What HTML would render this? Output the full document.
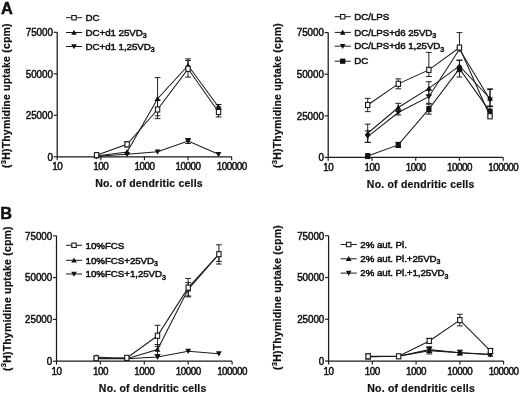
<!DOCTYPE html>
<html><head><meta charset="utf-8"><title>Figure</title>
<style>html,body{margin:0;padding:0;background:#fff;}svg{display:block;}text{fill:#111;}.t{stroke:#111;stroke-width:0.5px;}.b{stroke:#111;stroke-width:0.2px;}</style></head>
<body><svg width="520" height="393" viewBox="0 0 520 393">
<rect width="520" height="393" fill="#fff"/>
<path d="M57.20 32.30V156.80H231.68" fill="none" stroke="#1a1a1a" stroke-width="1.25"/>
<path d="M53.60 156.80H57.20" stroke="#1a1a1a" stroke-width="1.15"/>
<g transform="translate(52.90 160.60) scale(0.93 1)"><text text-anchor="end" font-size="10.6" letter-spacing="-0.05" class="t" font-family="Liberation Sans, Arial, sans-serif">0</text></g>
<path d="M53.60 115.30H57.20" stroke="#1a1a1a" stroke-width="1.15"/>
<g transform="translate(52.90 119.10) scale(0.93 1)"><text text-anchor="end" font-size="10.6" letter-spacing="-0.05" class="t" font-family="Liberation Sans, Arial, sans-serif">25000</text></g>
<path d="M53.60 73.80H57.20" stroke="#1a1a1a" stroke-width="1.15"/>
<g transform="translate(52.90 77.60) scale(0.93 1)"><text text-anchor="end" font-size="10.6" letter-spacing="-0.05" class="t" font-family="Liberation Sans, Arial, sans-serif">50000</text></g>
<path d="M53.60 32.30H57.20" stroke="#1a1a1a" stroke-width="1.15"/>
<g transform="translate(52.90 36.10) scale(0.93 1)"><text text-anchor="end" font-size="10.6" letter-spacing="-0.05" class="t" font-family="Liberation Sans, Arial, sans-serif">75000</text></g>
<path d="M57.20 156.80V160.20" stroke="#1a1a1a" stroke-width="1.15"/>
<g transform="translate(57.20 170.25) scale(0.93 1)"><text text-anchor="middle" font-size="10.6" letter-spacing="-0.52" class="t" font-family="Liberation Sans, Arial, sans-serif">10</text></g>
<path d="M100.82 156.80V160.20" stroke="#1a1a1a" stroke-width="1.15"/>
<g transform="translate(100.82 170.25) scale(0.93 1)"><text text-anchor="middle" font-size="10.6" letter-spacing="-0.52" class="t" font-family="Liberation Sans, Arial, sans-serif">100</text></g>
<path d="M144.44 156.80V160.20" stroke="#1a1a1a" stroke-width="1.15"/>
<g transform="translate(144.44 170.25) scale(0.93 1)"><text text-anchor="middle" font-size="10.6" letter-spacing="-0.52" class="t" font-family="Liberation Sans, Arial, sans-serif">1000</text></g>
<path d="M188.06 156.80V160.20" stroke="#1a1a1a" stroke-width="1.15"/>
<g transform="translate(188.06 170.25) scale(0.93 1)"><text text-anchor="middle" font-size="10.6" letter-spacing="-0.52" class="t" font-family="Liberation Sans, Arial, sans-serif">10000</text></g>
<path d="M231.68 156.80V160.20" stroke="#1a1a1a" stroke-width="1.15"/>
<g transform="translate(231.68 170.25) scale(0.93 1)"><text text-anchor="middle" font-size="10.6" letter-spacing="-0.52" class="t" font-family="Liberation Sans, Arial, sans-serif">100000</text></g>
<text x="149.00" y="187.30" text-anchor="middle" font-size="10.5" letter-spacing="0.2" font-weight="bold" class="b" font-family="Liberation Sans, Arial, sans-serif">No. of dendritic cells</text>
<text transform="translate(10.00 95.60) rotate(-90)" text-anchor="middle" font-size="10.5" letter-spacing="0.2" font-weight="bold" class="b" font-family="Liberation Sans, Arial, sans-serif">(<tspan font-size="7.6" dy="-4.3">3</tspan><tspan dy="4.3">H)Thymidine uptake (cpm)</tspan></text>
<polyline points="96.59,156.30 127.08,154.31 157.57,151.82 188.06,141.03 218.55,154.31" fill="none" stroke="#1a1a1a" stroke-width="1.05"/>
<path d="M188.06 138.54V143.52M185.16 138.54h5.8M185.16 143.52h5.8" fill="none" stroke="#151515" stroke-width="0.95"/>
<path d="M96.59 159.20L99.49 153.98H93.69Z" fill="#111"/>
<path d="M127.08 157.21L129.98 151.99H124.18Z" fill="#111"/>
<path d="M157.57 154.72L160.47 149.50H154.67Z" fill="#111"/>
<path d="M188.06 143.93L190.96 138.71H185.16Z" fill="#111"/>
<path d="M218.55 157.21L221.45 151.99H215.65Z" fill="#111"/>
<polyline points="96.59,155.97 127.08,151.99 157.57,98.70 188.06,65.50 218.55,107.00" fill="none" stroke="#1a1a1a" stroke-width="1.05"/>
<path d="M157.57 77.62V115.80M154.67 77.62h5.8M154.67 115.80h5.8" fill="none" stroke="#151515" stroke-width="0.95"/>
<path d="M188.06 58.86V65.50M185.16 58.86h5.8" fill="none" stroke="#151515" stroke-width="0.95"/>
<path d="M218.55 104.51V109.49M215.65 104.51h5.8M215.65 109.49h5.8" fill="none" stroke="#151515" stroke-width="0.95"/>
<path d="M96.59 153.07L99.49 158.29H93.69Z" fill="#111"/>
<path d="M127.08 149.09L129.98 154.31H124.18Z" fill="#111"/>
<path d="M157.57 95.80L160.47 101.02H154.67Z" fill="#111"/>
<path d="M188.06 62.60L190.96 67.82H185.16Z" fill="#111"/>
<path d="M218.55 104.10L221.45 109.32H215.65Z" fill="#111"/>
<polyline points="96.59,155.14 127.08,144.35 157.57,109.49 188.06,68.82 218.55,111.98" fill="none" stroke="#1a1a1a" stroke-width="1.05"/>
<path d="M127.08 141.86V146.84M124.18 141.86h5.8M124.18 146.84h5.8" fill="none" stroke="#151515" stroke-width="0.95"/>
<path d="M157.57 100.36V118.62M154.67 100.36h5.8M154.67 118.62h5.8" fill="none" stroke="#151515" stroke-width="0.95"/>
<path d="M188.06 60.52V77.12M185.16 60.52h5.8M185.16 77.12h5.8" fill="none" stroke="#151515" stroke-width="0.95"/>
<path d="M218.55 107.00V116.96M215.65 107.00h5.8M215.65 116.96h5.8" fill="none" stroke="#151515" stroke-width="0.95"/>
<rect x="94.44" y="152.59" width="4.30" height="5.10" fill="#fff" stroke="#1a1a1a" stroke-width="1.1"/>
<rect x="124.93" y="141.80" width="4.30" height="5.10" fill="#fff" stroke="#1a1a1a" stroke-width="1.1"/>
<rect x="155.42" y="106.94" width="4.30" height="5.10" fill="#fff" stroke="#1a1a1a" stroke-width="1.1"/>
<rect x="185.91" y="66.27" width="4.30" height="5.10" fill="#fff" stroke="#1a1a1a" stroke-width="1.1"/>
<rect x="216.40" y="109.43" width="4.30" height="5.10" fill="#fff" stroke="#1a1a1a" stroke-width="1.1"/>
<path d="M66.00 17.70h16.1" stroke="#1a1a1a" stroke-width="1"/>
<rect x="71.80" y="15.50" width="4.40" height="4.40" fill="#fff" stroke="#1a1a1a" stroke-width="1.1"/>
<g transform="translate(85.60 20.95) scale(1 1)"><text font-size="9.75" letter-spacing="-0.06" class="t" font-family="Liberation Sans, Arial, sans-serif">DC</text></g>
<path d="M66.00 32.50h16.1" stroke="#1a1a1a" stroke-width="1"/>
<path d="M74.00 29.70L76.80 34.74H71.20Z" fill="#111"/>
<g transform="translate(85.60 35.75) scale(1 1)"><text font-size="9.75" letter-spacing="-0.06" class="t" font-family="Liberation Sans, Arial, sans-serif">DC+d1 25VD<tspan font-size="7" dy="2.3">3</tspan></text></g>
<path d="M66.00 46.50h16.1" stroke="#1a1a1a" stroke-width="1"/>
<path d="M74.00 49.30L76.80 44.26H71.20Z" fill="#111"/>
<g transform="translate(85.60 49.75) scale(1 1)"><text font-size="9.75" letter-spacing="-0.06" class="t" font-family="Liberation Sans, Arial, sans-serif">DC+d1 1,25VD<tspan font-size="7" dy="2.3">3</tspan></text></g>
<path d="M328.20 32.60V157.40H503.20" fill="none" stroke="#1a1a1a" stroke-width="1.25"/>
<path d="M324.60 157.40H328.20" stroke="#1a1a1a" stroke-width="1.15"/>
<g transform="translate(323.90 161.20) scale(0.93 1)"><text text-anchor="end" font-size="10.6" letter-spacing="-0.05" class="t" font-family="Liberation Sans, Arial, sans-serif">0</text></g>
<path d="M324.60 115.80H328.20" stroke="#1a1a1a" stroke-width="1.15"/>
<g transform="translate(323.90 119.60) scale(0.93 1)"><text text-anchor="end" font-size="10.6" letter-spacing="-0.05" class="t" font-family="Liberation Sans, Arial, sans-serif">25000</text></g>
<path d="M324.60 74.20H328.20" stroke="#1a1a1a" stroke-width="1.15"/>
<g transform="translate(323.90 78.00) scale(0.93 1)"><text text-anchor="end" font-size="10.6" letter-spacing="-0.05" class="t" font-family="Liberation Sans, Arial, sans-serif">50000</text></g>
<path d="M324.60 32.60H328.20" stroke="#1a1a1a" stroke-width="1.15"/>
<g transform="translate(323.90 36.40) scale(0.93 1)"><text text-anchor="end" font-size="10.6" letter-spacing="-0.05" class="t" font-family="Liberation Sans, Arial, sans-serif">75000</text></g>
<path d="M328.20 157.40V160.80" stroke="#1a1a1a" stroke-width="1.15"/>
<g transform="translate(328.20 171.00) scale(0.93 1)"><text text-anchor="middle" font-size="10.6" letter-spacing="-0.52" class="t" font-family="Liberation Sans, Arial, sans-serif">10</text></g>
<path d="M371.95 157.40V160.80" stroke="#1a1a1a" stroke-width="1.15"/>
<g transform="translate(371.95 171.00) scale(0.93 1)"><text text-anchor="middle" font-size="10.6" letter-spacing="-0.52" class="t" font-family="Liberation Sans, Arial, sans-serif">100</text></g>
<path d="M415.70 157.40V160.80" stroke="#1a1a1a" stroke-width="1.15"/>
<g transform="translate(415.70 171.00) scale(0.93 1)"><text text-anchor="middle" font-size="10.6" letter-spacing="-0.52" class="t" font-family="Liberation Sans, Arial, sans-serif">1000</text></g>
<path d="M459.45 157.40V160.80" stroke="#1a1a1a" stroke-width="1.15"/>
<g transform="translate(459.45 171.00) scale(0.93 1)"><text text-anchor="middle" font-size="10.6" letter-spacing="-0.52" class="t" font-family="Liberation Sans, Arial, sans-serif">10000</text></g>
<path d="M503.20 157.40V160.80" stroke="#1a1a1a" stroke-width="1.15"/>
<g transform="translate(503.20 171.00) scale(0.93 1)"><text text-anchor="middle" font-size="10.6" letter-spacing="-0.52" class="t" font-family="Liberation Sans, Arial, sans-serif">100000</text></g>
<text x="420.70" y="187.50" text-anchor="middle" font-size="10.5" letter-spacing="0.2" font-weight="bold" class="b" font-family="Liberation Sans, Arial, sans-serif">No. of dendritic cells</text>
<text transform="translate(281.10 95.50) rotate(-90)" text-anchor="middle" font-size="10.5" letter-spacing="0.2" font-weight="bold" class="b" font-family="Liberation Sans, Arial, sans-serif">(<tspan font-size="7.6" dy="-4.3">3</tspan><tspan dy="4.3">H)Thymidine uptake (cpm)</tspan></text>
<polyline points="367.71,156.07 398.29,144.92 428.87,109.14 459.45,68.71 490.03,111.64" fill="none" stroke="#1a1a1a" stroke-width="1.05"/>
<path d="M398.29 142.42V147.42M395.39 142.42h5.8M395.39 147.42h5.8" fill="none" stroke="#151515" stroke-width="0.95"/>
<path d="M428.87 104.15V114.14M425.97 104.15h5.8M425.97 114.14h5.8" fill="none" stroke="#151515" stroke-width="0.95"/>
<path d="M459.45 60.39V77.03M456.55 60.39h5.8M456.55 77.03h5.8" fill="none" stroke="#151515" stroke-width="0.95"/>
<path d="M490.03 106.65V116.63M487.13 106.65h5.8M487.13 116.63h5.8" fill="none" stroke="#151515" stroke-width="0.95"/>
<rect x="365.11" y="153.07" width="5.20" height="6.00" fill="#111"/>
<rect x="395.69" y="141.92" width="5.20" height="6.00" fill="#111"/>
<rect x="426.27" y="106.14" width="5.20" height="6.00" fill="#111"/>
<rect x="456.85" y="65.71" width="5.20" height="6.00" fill="#111"/>
<rect x="487.43" y="108.64" width="5.20" height="6.00" fill="#111"/>
<polyline points="367.71,136.60 398.29,112.47 428.87,96.66 459.45,49.24 490.03,99.83" fill="none" stroke="#1a1a1a" stroke-width="1.05"/>
<path d="M367.71 130.78V142.42M364.81 130.78h5.8M364.81 142.42h5.8" fill="none" stroke="#151515" stroke-width="0.95"/>
<path d="M398.29 109.98V114.97M395.39 109.98h5.8M395.39 114.97h5.8" fill="none" stroke="#151515" stroke-width="0.95"/>
<path d="M428.87 90.01V103.32M425.97 90.01h5.8M425.97 103.32h5.8" fill="none" stroke="#151515" stroke-width="0.95"/>
<path d="M490.03 89.51V106.48M487.13 89.51h5.8M487.13 106.48h5.8" fill="none" stroke="#151515" stroke-width="0.95"/>
<path d="M367.71 139.50L370.61 134.28H364.81Z" fill="#111"/>
<path d="M398.29 115.37L401.19 110.15H395.39Z" fill="#111"/>
<path d="M428.87 99.56L431.77 94.34H425.97Z" fill="#111"/>
<path d="M459.45 52.14L462.35 46.92H456.55Z" fill="#111"/>
<path d="M490.03 102.73L492.93 97.51H487.13Z" fill="#111"/>
<polyline points="367.71,133.27 398.29,107.48 428.87,88.34 459.45,65.88 490.03,98.49" fill="none" stroke="#1a1a1a" stroke-width="1.05"/>
<path d="M367.71 124.12V142.42M364.81 124.12h5.8M364.81 142.42h5.8" fill="none" stroke="#151515" stroke-width="0.95"/>
<path d="M398.29 103.32V111.64M395.39 103.32h5.8M395.39 111.64h5.8" fill="none" stroke="#151515" stroke-width="0.95"/>
<path d="M428.87 81.69V95.00M425.97 81.69h5.8M425.97 95.00h5.8" fill="none" stroke="#151515" stroke-width="0.95"/>
<path d="M459.45 60.06V71.70M456.55 60.06h5.8M456.55 71.70h5.8" fill="none" stroke="#151515" stroke-width="0.95"/>
<path d="M490.03 88.84V105.98M487.13 88.84h5.8M487.13 105.98h5.8" fill="none" stroke="#151515" stroke-width="0.95"/>
<path d="M367.71 130.37L370.61 135.59H364.81Z" fill="#111"/>
<path d="M398.29 104.58L401.19 109.80H395.39Z" fill="#111"/>
<path d="M428.87 85.44L431.77 90.66H425.97Z" fill="#111"/>
<path d="M459.45 62.98L462.35 68.20H456.55Z" fill="#111"/>
<path d="M490.03 95.59L492.93 100.81H487.13Z" fill="#111"/>
<polyline points="367.71,104.98 398.29,83.85 428.87,69.87 459.45,47.58 490.03,116.30" fill="none" stroke="#1a1a1a" stroke-width="1.05"/>
<path d="M367.71 98.33V111.64M364.81 98.33h5.8M364.81 111.64h5.8" fill="none" stroke="#151515" stroke-width="0.95"/>
<path d="M398.29 78.86V88.84M395.39 78.86h5.8M395.39 88.84h5.8" fill="none" stroke="#151515" stroke-width="0.95"/>
<path d="M428.87 52.40V76.53M425.97 52.40h5.8M425.97 76.53h5.8" fill="none" stroke="#151515" stroke-width="0.95"/>
<path d="M459.45 32.60V47.58M456.55 32.60h5.8" fill="none" stroke="#151515" stroke-width="0.95"/>
<rect x="365.56" y="102.43" width="4.30" height="5.10" fill="#fff" stroke="#1a1a1a" stroke-width="1.1"/>
<rect x="396.14" y="81.30" width="4.30" height="5.10" fill="#fff" stroke="#1a1a1a" stroke-width="1.1"/>
<rect x="426.72" y="67.32" width="4.30" height="5.10" fill="#fff" stroke="#1a1a1a" stroke-width="1.1"/>
<rect x="457.30" y="45.03" width="4.30" height="5.10" fill="#fff" stroke="#1a1a1a" stroke-width="1.1"/>
<rect x="487.88" y="113.75" width="4.30" height="5.10" fill="#fff" stroke="#1a1a1a" stroke-width="1.1"/>
<path d="M334.70 16.70h16.1" stroke="#1a1a1a" stroke-width="1"/>
<rect x="340.50" y="14.50" width="4.40" height="4.40" fill="#fff" stroke="#1a1a1a" stroke-width="1.1"/>
<g transform="translate(354.30 19.95) scale(1 1)"><text font-size="9.75" letter-spacing="-0.06" class="t" font-family="Liberation Sans, Arial, sans-serif">DC/LPS</text></g>
<path d="M334.70 32.40h16.1" stroke="#1a1a1a" stroke-width="1"/>
<path d="M342.70 29.60L345.50 34.64H339.90Z" fill="#111"/>
<g transform="translate(354.30 35.65) scale(1 1)"><text font-size="9.75" letter-spacing="-0.06" class="t" font-family="Liberation Sans, Arial, sans-serif">DC/LPS+d6 25VD<tspan font-size="7" dy="2.3">3</tspan></text></g>
<path d="M334.70 46.20h16.1" stroke="#1a1a1a" stroke-width="1"/>
<path d="M342.70 49.00L345.50 43.96H339.90Z" fill="#111"/>
<g transform="translate(354.30 49.45) scale(1 1)"><text font-size="9.75" letter-spacing="-0.06" class="t" font-family="Liberation Sans, Arial, sans-serif">DC/LPS+d6 1,25VD<tspan font-size="7" dy="2.3">3</tspan></text></g>
<path d="M334.70 61.20h16.1" stroke="#1a1a1a" stroke-width="1"/>
<rect x="340.00" y="58.60" width="5.40" height="5.20" fill="#111"/>
<g transform="translate(354.30 64.45) scale(1 1)"><text font-size="9.75" letter-spacing="-0.06" class="t" font-family="Liberation Sans, Arial, sans-serif">DC</text></g>
<path d="M56.50 235.80V361.20H232.10" fill="none" stroke="#1a1a1a" stroke-width="1.25"/>
<path d="M52.90 361.20H56.50" stroke="#1a1a1a" stroke-width="1.15"/>
<g transform="translate(52.20 365.00) scale(0.93 1)"><text text-anchor="end" font-size="10.6" letter-spacing="-0.05" class="t" font-family="Liberation Sans, Arial, sans-serif">0</text></g>
<path d="M52.90 319.40H56.50" stroke="#1a1a1a" stroke-width="1.15"/>
<g transform="translate(52.20 323.20) scale(0.93 1)"><text text-anchor="end" font-size="10.6" letter-spacing="-0.05" class="t" font-family="Liberation Sans, Arial, sans-serif">25000</text></g>
<path d="M52.90 277.60H56.50" stroke="#1a1a1a" stroke-width="1.15"/>
<g transform="translate(52.20 281.40) scale(0.93 1)"><text text-anchor="end" font-size="10.6" letter-spacing="-0.05" class="t" font-family="Liberation Sans, Arial, sans-serif">50000</text></g>
<path d="M52.90 235.80H56.50" stroke="#1a1a1a" stroke-width="1.15"/>
<g transform="translate(52.20 239.60) scale(0.93 1)"><text text-anchor="end" font-size="10.6" letter-spacing="-0.05" class="t" font-family="Liberation Sans, Arial, sans-serif">75000</text></g>
<path d="M56.50 361.20V364.60" stroke="#1a1a1a" stroke-width="1.15"/>
<g transform="translate(56.50 375.10) scale(0.93 1)"><text text-anchor="middle" font-size="10.6" letter-spacing="-0.52" class="t" font-family="Liberation Sans, Arial, sans-serif">10</text></g>
<path d="M100.40 361.20V364.60" stroke="#1a1a1a" stroke-width="1.15"/>
<g transform="translate(100.40 375.10) scale(0.93 1)"><text text-anchor="middle" font-size="10.6" letter-spacing="-0.52" class="t" font-family="Liberation Sans, Arial, sans-serif">100</text></g>
<path d="M144.30 361.20V364.60" stroke="#1a1a1a" stroke-width="1.15"/>
<g transform="translate(144.30 375.10) scale(0.93 1)"><text text-anchor="middle" font-size="10.6" letter-spacing="-0.52" class="t" font-family="Liberation Sans, Arial, sans-serif">1000</text></g>
<path d="M188.20 361.20V364.60" stroke="#1a1a1a" stroke-width="1.15"/>
<g transform="translate(188.20 375.10) scale(0.93 1)"><text text-anchor="middle" font-size="10.6" letter-spacing="-0.52" class="t" font-family="Liberation Sans, Arial, sans-serif">10000</text></g>
<path d="M232.10 361.20V364.60" stroke="#1a1a1a" stroke-width="1.15"/>
<g transform="translate(232.10 375.10) scale(0.93 1)"><text text-anchor="middle" font-size="10.6" letter-spacing="-0.52" class="t" font-family="Liberation Sans, Arial, sans-serif">100000</text></g>
<text x="152.70" y="391.70" text-anchor="middle" font-size="10.5" letter-spacing="0.2" font-weight="bold" class="b" font-family="Liberation Sans, Arial, sans-serif">No. of dendritic cells</text>
<text transform="translate(10.60 298.60) rotate(-90)" text-anchor="middle" font-size="10.5" letter-spacing="0.2" font-weight="bold" class="b" font-family="Liberation Sans, Arial, sans-serif">(<tspan font-size="7.6" dy="-4.3">3</tspan><tspan dy="4.3">H)Thymidine uptake (cpm)</tspan></text>
<polyline points="96.15,358.69 126.83,358.69 157.52,357.02 188.20,351.17 218.88,353.68" fill="none" stroke="#1a1a1a" stroke-width="1.05"/>
<path d="M96.15 361.59L99.05 356.37H93.25Z" fill="#111"/>
<path d="M126.83 361.59L129.73 356.37H123.93Z" fill="#111"/>
<path d="M157.52 359.92L160.42 354.70H154.62Z" fill="#111"/>
<path d="M188.20 354.07L191.10 348.85H185.30Z" fill="#111"/>
<path d="M218.88 356.58L221.78 351.36H215.98Z" fill="#111"/>
<polyline points="96.15,357.02 126.83,358.69 157.52,349.50 188.20,289.30 218.88,254.19" fill="none" stroke="#1a1a1a" stroke-width="1.05"/>
<path d="M157.52 344.48V354.51M154.62 344.48h5.8M154.62 354.51h5.8" fill="none" stroke="#151515" stroke-width="0.95"/>
<path d="M188.20 282.62V295.99M185.30 282.62h5.8M185.30 295.99h5.8" fill="none" stroke="#151515" stroke-width="0.95"/>
<path d="M218.88 254.19V264.06M215.98 264.06h5.8" fill="none" stroke="#151515" stroke-width="0.95"/>
<path d="M96.15 354.12L99.05 359.34H93.25Z" fill="#111"/>
<path d="M126.83 355.79L129.73 361.01H123.93Z" fill="#111"/>
<path d="M157.52 346.60L160.42 351.82H154.62Z" fill="#111"/>
<path d="M188.20 286.40L191.10 291.62H185.30Z" fill="#111"/>
<path d="M218.88 251.29L221.78 256.51H215.98Z" fill="#111"/>
<polyline points="96.15,358.19 126.83,357.86 157.52,335.79 188.20,287.63 218.88,254.19" fill="none" stroke="#1a1a1a" stroke-width="1.05"/>
<path d="M157.52 325.25V346.32M154.62 325.25h5.8M154.62 346.32h5.8" fill="none" stroke="#151515" stroke-width="0.95"/>
<path d="M188.20 278.44V296.83M185.30 278.44h5.8M185.30 296.83h5.8" fill="none" stroke="#151515" stroke-width="0.95"/>
<path d="M218.88 244.83V261.38M215.98 244.83h5.8M215.98 261.38h5.8" fill="none" stroke="#151515" stroke-width="0.95"/>
<rect x="94.00" y="355.64" width="4.30" height="5.10" fill="#fff" stroke="#1a1a1a" stroke-width="1.1"/>
<rect x="124.68" y="355.31" width="4.30" height="5.10" fill="#fff" stroke="#1a1a1a" stroke-width="1.1"/>
<rect x="155.37" y="333.24" width="4.30" height="5.10" fill="#fff" stroke="#1a1a1a" stroke-width="1.1"/>
<rect x="186.05" y="285.08" width="4.30" height="5.10" fill="#fff" stroke="#1a1a1a" stroke-width="1.1"/>
<rect x="216.73" y="251.64" width="4.30" height="5.10" fill="#fff" stroke="#1a1a1a" stroke-width="1.1"/>
<path d="M66.00 245.30h16.1" stroke="#1a1a1a" stroke-width="1"/>
<rect x="71.80" y="243.10" width="4.40" height="4.40" fill="#fff" stroke="#1a1a1a" stroke-width="1.1"/>
<g transform="translate(85.60 248.55) scale(1 1)"><text font-size="9.75" letter-spacing="-0.06" class="t" font-family="Liberation Sans, Arial, sans-serif">10%FCS</text></g>
<path d="M66.00 260.30h16.1" stroke="#1a1a1a" stroke-width="1"/>
<path d="M74.00 257.50L76.80 262.54H71.20Z" fill="#111"/>
<g transform="translate(85.60 263.55) scale(1 1)"><text font-size="9.75" letter-spacing="-0.06" class="t" font-family="Liberation Sans, Arial, sans-serif">10%FCS+25VD<tspan font-size="7" dy="2.3">3</tspan></text></g>
<path d="M66.00 274.00h16.1" stroke="#1a1a1a" stroke-width="1"/>
<path d="M74.00 276.80L76.80 271.76H71.20Z" fill="#111"/>
<g transform="translate(85.60 277.25) scale(1 1)"><text font-size="9.75" letter-spacing="-0.06" class="t" font-family="Liberation Sans, Arial, sans-serif">10%FCS+1,25VD<tspan font-size="7" dy="2.3">3</tspan></text></g>
<path d="M328.60 235.75V361.00H503.60" fill="none" stroke="#1a1a1a" stroke-width="1.25"/>
<path d="M325.00 361.00H328.60" stroke="#1a1a1a" stroke-width="1.15"/>
<g transform="translate(324.30 364.80) scale(0.93 1)"><text text-anchor="end" font-size="10.6" letter-spacing="-0.05" class="t" font-family="Liberation Sans, Arial, sans-serif">0</text></g>
<path d="M325.00 319.25H328.60" stroke="#1a1a1a" stroke-width="1.15"/>
<g transform="translate(324.30 323.05) scale(0.93 1)"><text text-anchor="end" font-size="10.6" letter-spacing="-0.05" class="t" font-family="Liberation Sans, Arial, sans-serif">25000</text></g>
<path d="M325.00 277.50H328.60" stroke="#1a1a1a" stroke-width="1.15"/>
<g transform="translate(324.30 281.30) scale(0.93 1)"><text text-anchor="end" font-size="10.6" letter-spacing="-0.05" class="t" font-family="Liberation Sans, Arial, sans-serif">50000</text></g>
<path d="M325.00 235.75H328.60" stroke="#1a1a1a" stroke-width="1.15"/>
<g transform="translate(324.30 239.55) scale(0.93 1)"><text text-anchor="end" font-size="10.6" letter-spacing="-0.05" class="t" font-family="Liberation Sans, Arial, sans-serif">75000</text></g>
<path d="M328.60 361.00V364.40" stroke="#1a1a1a" stroke-width="1.15"/>
<g transform="translate(328.60 374.60) scale(0.93 1)"><text text-anchor="middle" font-size="10.6" letter-spacing="-0.52" class="t" font-family="Liberation Sans, Arial, sans-serif">10</text></g>
<path d="M372.35 361.00V364.40" stroke="#1a1a1a" stroke-width="1.15"/>
<g transform="translate(372.35 374.60) scale(0.93 1)"><text text-anchor="middle" font-size="10.6" letter-spacing="-0.52" class="t" font-family="Liberation Sans, Arial, sans-serif">100</text></g>
<path d="M416.10 361.00V364.40" stroke="#1a1a1a" stroke-width="1.15"/>
<g transform="translate(416.10 374.60) scale(0.93 1)"><text text-anchor="middle" font-size="10.6" letter-spacing="-0.52" class="t" font-family="Liberation Sans, Arial, sans-serif">1000</text></g>
<path d="M459.85 361.00V364.40" stroke="#1a1a1a" stroke-width="1.15"/>
<g transform="translate(459.85 374.60) scale(0.93 1)"><text text-anchor="middle" font-size="10.6" letter-spacing="-0.52" class="t" font-family="Liberation Sans, Arial, sans-serif">10000</text></g>
<path d="M503.60 361.00V364.40" stroke="#1a1a1a" stroke-width="1.15"/>
<g transform="translate(503.60 374.60) scale(0.93 1)"><text text-anchor="middle" font-size="10.6" letter-spacing="-0.52" class="t" font-family="Liberation Sans, Arial, sans-serif">100000</text></g>
<text x="421.10" y="391.70" text-anchor="middle" font-size="10.5" letter-spacing="0.2" font-weight="bold" class="b" font-family="Liberation Sans, Arial, sans-serif">No. of dendritic cells</text>
<text transform="translate(281.10 297.50) rotate(-90)" text-anchor="middle" font-size="10.5" letter-spacing="0.2" font-weight="bold" class="b" font-family="Liberation Sans, Arial, sans-serif">(<tspan font-size="7.6" dy="-4.3">3</tspan><tspan dy="4.3">H)Thymidine uptake (cpm)</tspan></text>
<polyline points="368.11,356.82 398.69,356.32 429.27,349.64 459.85,352.65 490.43,354.65" fill="none" stroke="#1a1a1a" stroke-width="1.05"/>
<path d="M429.27 346.81V352.48M426.37 346.81h5.8M426.37 352.48h5.8" fill="none" stroke="#151515" stroke-width="0.95"/>
<path d="M368.11 359.72L371.01 354.50H365.21Z" fill="#111"/>
<path d="M398.69 359.22L401.59 354.00H395.79Z" fill="#111"/>
<path d="M429.27 352.54L432.17 347.32H426.37Z" fill="#111"/>
<path d="M459.85 355.55L462.75 350.33H456.95Z" fill="#111"/>
<path d="M490.43 357.55L493.33 352.33H487.53Z" fill="#111"/>
<polyline points="368.11,356.82 398.69,356.32 429.27,350.65 459.85,352.65 490.43,354.32" fill="none" stroke="#1a1a1a" stroke-width="1.05"/>
<path d="M429.27 347.31V353.99M426.37 347.31h5.8M426.37 353.99h5.8" fill="none" stroke="#151515" stroke-width="0.95"/>
<path d="M459.85 350.14V355.15M456.95 350.14h5.8M456.95 355.15h5.8" fill="none" stroke="#151515" stroke-width="0.95"/>
<path d="M368.11 353.93L371.01 359.14H365.21Z" fill="#111"/>
<path d="M398.69 353.42L401.59 358.64H395.79Z" fill="#111"/>
<path d="M429.27 347.75L432.17 352.97H426.37Z" fill="#111"/>
<path d="M459.85 349.75L462.75 354.97H456.95Z" fill="#111"/>
<path d="M490.43 351.42L493.33 356.64H487.53Z" fill="#111"/>
<polyline points="368.11,356.32 398.69,356.32 429.27,340.96 459.85,320.08 490.43,350.98" fill="none" stroke="#1a1a1a" stroke-width="1.05"/>
<path d="M368.11 353.82V358.83M365.21 353.82h5.8M365.21 358.83h5.8" fill="none" stroke="#151515" stroke-width="0.95"/>
<path d="M429.27 338.45V343.46M426.37 338.45h5.8M426.37 343.46h5.8" fill="none" stroke="#151515" stroke-width="0.95"/>
<path d="M459.85 314.24V325.93M456.95 314.24h5.8M456.95 325.93h5.8" fill="none" stroke="#151515" stroke-width="0.95"/>
<path d="M490.43 348.48V353.49M487.53 348.48h5.8M487.53 353.49h5.8" fill="none" stroke="#151515" stroke-width="0.95"/>
<rect x="365.96" y="353.77" width="4.30" height="5.10" fill="#fff" stroke="#1a1a1a" stroke-width="1.1"/>
<rect x="396.54" y="353.77" width="4.30" height="5.10" fill="#fff" stroke="#1a1a1a" stroke-width="1.1"/>
<rect x="427.12" y="338.41" width="4.30" height="5.10" fill="#fff" stroke="#1a1a1a" stroke-width="1.1"/>
<rect x="457.70" y="317.53" width="4.30" height="5.10" fill="#fff" stroke="#1a1a1a" stroke-width="1.1"/>
<rect x="488.28" y="348.43" width="4.30" height="5.10" fill="#fff" stroke="#1a1a1a" stroke-width="1.1"/>
<path d="M340.70 244.50h16.1" stroke="#1a1a1a" stroke-width="1"/>
<rect x="346.50" y="242.30" width="4.40" height="4.40" fill="#fff" stroke="#1a1a1a" stroke-width="1.1"/>
<g transform="translate(360.30 247.75) scale(1 1)"><text font-size="9.75" letter-spacing="-0.06" class="t" font-family="Liberation Sans, Arial, sans-serif">2% aut. Pl.</text></g>
<path d="M340.70 258.80h16.1" stroke="#1a1a1a" stroke-width="1"/>
<path d="M348.70 256.00L351.50 261.04H345.90Z" fill="#111"/>
<g transform="translate(360.30 262.05) scale(1 1)"><text font-size="9.75" letter-spacing="-0.06" class="t" font-family="Liberation Sans, Arial, sans-serif">2% aut. Pl.+25VD<tspan font-size="7" dy="2.3">3</tspan></text></g>
<path d="M340.70 273.10h16.1" stroke="#1a1a1a" stroke-width="1"/>
<path d="M348.70 275.90L351.50 270.86H345.90Z" fill="#111"/>
<g transform="translate(360.30 276.35) scale(1 1)"><text font-size="9.75" letter-spacing="-0.06" class="t" font-family="Liberation Sans, Arial, sans-serif">2% aut. Pl.+1,25VD<tspan font-size="7" dy="2.3">3</tspan></text></g>
<text x="0.9" y="13.6" font-size="16.3" font-weight="bold" stroke="#111" stroke-width="0.5" font-family="Liberation Sans, Arial, sans-serif">A</text>
<text x="0.2" y="218.8" font-size="16.3" font-weight="bold" stroke="#111" stroke-width="0.5" font-family="Liberation Sans, Arial, sans-serif">B</text>
</svg></body></html>
